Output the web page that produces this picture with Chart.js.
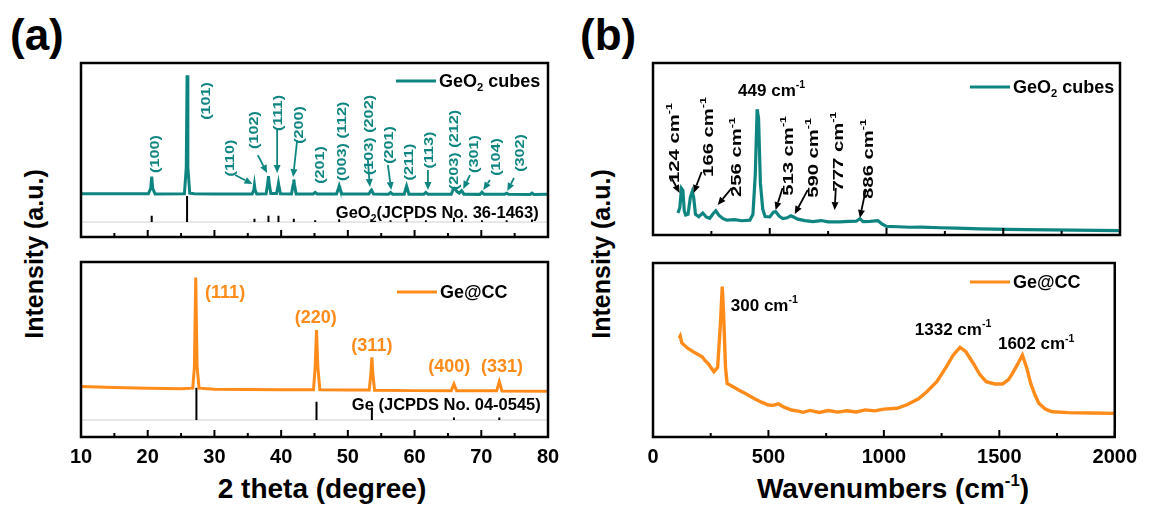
<!DOCTYPE html>
<html>
<head>
<meta charset="utf-8">
<script src="https://cdn.jsdelivr.net/npm/chart.js@4.4.0/dist/chart.umd.min.js"></script>
<style>
  body { margin: 0; background: #fff; }
  #page { position: relative; width: 1150px; height: 510px; overflow: hidden; background: #fff;
          font-family: "Liberation Sans", Arial, sans-serif; }
  canvas { position: absolute; }
  .txt { position: absolute; font-weight: bold; color: #000; white-space: nowrap; line-height: 1; }
  .mid { transform: translate(-50%, -50%); }
  .rot { transform: translate(-50%, -50%) rotate(-90deg); }
  sup { font-size: 60%; vertical-align: 0.7em; line-height: 0; }
</style>
</head>
<body>
<div id="page">
  <div class="txt" style="left:10px; top:13px; font-size:44px;">(a)</div>
  <div class="txt" style="left:580px; top:13px; font-size:44px;">(b)</div>
  <div class="txt rot" style="left:34px; top:254px; font-size:25px;">Intensity (a.u.)</div>
  <div class="txt rot" style="left:601px; top:254px; font-size:25px;">Intensity (a.u.)</div>
  <div class="txt mid" style="left:322px; top:489px; font-size:28px;">2 theta (degree)</div>
  <div class="txt mid" style="left:893px; top:489px; font-size:28px;">Wavenumbers (cm<sup>-1</sup>)</div>
  <canvas id="xrdTop"></canvas>
  <canvas id="xrdBottom"></canvas>
  <canvas id="ramanTop"></canvas>
  <canvas id="ramanBottom"></canvas>
</div>
<script>
// ---- dados ----
// XRD, GeO2 cubes: [2 theta, intensidade]
const geo2Pattern = [
  [10, 24.9], [15, 24.8], [20.1, 24.8], [20.45, 28], [20.6, 34.7], [20.75, 28], [21.1, 24.7],
  [25.5, 24.8], [25.78, 40], [25.9, 93], [26.02, 40], [26.3, 25.2], [27, 24.8], [30, 24.7],
  [35.65, 24.7], [35.9, 27], [36.0, 29.9], [36.1, 27], [36.35, 24.7],
  [37.75, 24.8], [38.0, 31], [38.1, 35], [38.2, 31], [38.45, 25],
  [39.3, 25], [39.5, 28.5], [39.6, 30.8], [39.7, 28.5], [39.9, 24.8],
  [41.55, 24.7], [41.8, 30], [41.9, 33.1], [42.0, 30], [42.25, 24.7],
  [44.8, 24.7], [45.1, 25.6], [45.4, 24.7],
  [48.3, 24.7], [48.6, 28], [48.7, 29.3], [48.8, 28], [49.1, 24.7],
  [53.15, 24.7], [53.45, 26.6], [53.55, 27], [53.85, 24.7],
  [56.1, 24.6], [56.4, 25.6], [56.7, 24.6],
  [58.45, 24.6], [58.7, 28], [58.8, 29.3], [58.9, 28], [59.15, 24.6],
  [61.4, 24.6], [61.7, 25.6], [62.0, 24.6],
  [65.5, 24.6], [65.8, 27.5], [65.95, 28], [66.4, 26], [66.7, 25.2], [67.05, 26.6], [67.4, 24.6],
  [69.8, 24.5], [70.1, 25.7], [70.4, 24.5],
  [73.5, 24.5], [73.8, 25.2], [74.1, 24.5],
  [77.3, 24.4], [77.6, 25.2], [77.9, 24.4], [80, 24.5]
];
// padrão JCPDS 36-1463
const geo2StickPos = [20.6, 25.9, 36.0, 38.1, 39.6, 41.9, 45.1, 48.7, 53.5, 56.4, 58.8, 61.7, 65.9, 67.1, 70.1, 73.8, 77.6];
const geo2StickTop = [12.2, 23.5, 10.5, 12.2, 12.2, 10.5, 9.6, 10.2, 10.2, 9.6, 10.5, 9.6, 11, 10, 9.6, 9.6, 10];
const geo2StickBase = 8.6;
const geo2Hkl = ['(100)', '(101)', '(110)', '(102)', '(111)', '(200)', '(201)', '(003) (112)', '(103) (202)',
  '(201)', '(211)', '(113)', '(203) (212)', '(301)', '(104)', '(302)'];
const geo2HklX = [20.9, 28.6, 32.2, 35.8, 39.4, 42.5, 45.7, 49.0, 53.0, 56.0, 59.0, 62.0, 65.8, 68.8, 72.1, 75.7];
const geo2HklY = [47.7, 78.2, 45.4, 61.5, 71.3, 64.4, 41.4, 55, 58.6, 52.9, 43.1, 50, 50, 47.7, 46, 48.3];
const geo2HklArrows = [
  [33.1, 35.6, 35.7, 30.5], [36.5, 47.1, 37.9, 36.8], [39.4, 62.6, 39.4, 36.8], [42.4, 55.7, 41.8, 34.5],
  [53.0, 44.3, 53.3, 28.7], [56.0, 41.4, 56.5, 27], [62.0, 38.5, 62.0, 27], [68.3, 35.6, 67.3, 27.6],
  [71.3, 32.8, 70.3, 27], [74.9, 33.9, 73.9, 26.4]
];

// XRD, Ge@CC
const gePattern = [
  [10, 28.8], [15, 28.3], [20, 27.8], [25, 27.6], [26.75, 27.9], [27.0, 40], [27.2, 91.2], [27.4, 40], [27.7, 27.9],
  [30, 27.3], [35, 27.1], [40, 27], [44.85, 27], [45.1, 40], [45.3, 61.1], [45.5, 40], [45.8, 27],
  [50, 26.8], [53.2, 26.8], [53.45, 36], [53.6, 45.5], [53.75, 36], [54.0, 26.7],
  [60, 26.5], [65.5, 26.5], [65.9, 30.3], [66.3, 26.4], [72.3, 26.4], [72.7, 31.6], [73.1, 26.3], [80, 26.2]
];
const geStickPos = [27.3, 45.3, 53.6, 65.9, 72.7];
const geStickTop = [28.2, 20.2, 16.6, 11.2, 11.2];
const geStickBase = 9.7;
const geHkl = ['(111)', '(220)', '(311)', '(400)', '(331)'];
const geHklX = [31.6, 45.2, 53.6, 65.2, 73.1];
const geHklY = [82.9, 69.1, 52.6, 41.1, 41.1];

// Raman, GeO2 cubes: [número de onda, intensidade]
const ramanGeo2 = [
  [107, 12.8], [115, 16], [122, 27.1], [128, 26], [134, 14], [140, 11.6], [150, 12], [160, 22], [168, 25.2],
  [174, 22], [182, 12], [196, 10.7], [213, 12.8], [228, 10.5], [243, 9.7], [258, 12.5], [269, 14.1], [282, 11.5],
  [300, 9.5], [316, 8.7], [350, 8.9], [380, 8.3], [415, 8.6], [428, 12], [438, 35], [446, 73.1], [452, 68],
  [460, 30], [470, 15], [480, 10.7], [500, 10.5], [515, 13.2], [525, 13.6], [540, 11], [556, 9.6], [575, 10],
  [590, 11.2], [600, 10.6], [620, 9.2], [650, 8.4], [685, 7.8], [720, 8.4], [750, 7.6], [800, 7.6], [840, 7.9],
  [870, 8], [886, 9.5], [900, 7.8], [930, 7.9], [963, 8.4], [980, 6.5], [1000, 5], [1050, 4.8], [1100, 4.5],
  [1150, 4.6], [1229, 4.2], [1300, 4], [1400, 3.6], [1517, 3.3], [1600, 3.1], [1700, 3], [1800, 2.8],
  [1900, 2.7], [2000, 2.6]
];
const ramanGeo2Marks = ['124', '166', '256', '513', '590', '777', '886'];
const ramanGeo2MarkX = [88, 232, 355, 575, 684, 791, 920];
const ramanGeo2MarkY = [53.5, 57, 45.3, 46, 44.8, 48.5, 44.2];
const ramanGeo2Arrows = [
  [80, 33.1, 114, 24.4], [208, 36.6, 174, 24.4], [337, 27.3, 277, 17.4], [555, 27.3, 525, 14.5],
  [663, 26.2, 607, 12.2], [783, 27.3, 778, 14.5], [911, 26.2, 886, 9.9]
];

// Raman, Ge@CC
const ramanGe = [
  [113, 56.7], [118, 58], [125, 54], [150, 51], [180, 48.5], [213, 46.1], [225, 44], [240, 42], [264, 37.5],
  [280, 40], [292, 65], [300, 86.4], [306, 70], [314, 40], [321, 30.8], [345, 29], [371, 27], [400, 25],
  [440, 22], [470, 20], [500, 18.4], [520, 18.2], [543, 19], [570, 17], [600, 15.5], [629, 14.9], [650, 14.2],
  [680, 15.3], [720, 14.1], [760, 15.2], [800, 14.3], [840, 15.1], [880, 14.4], [920, 15.6], [960, 15],
  [1000, 16], [1057, 16.5], [1100, 18.5], [1150, 22], [1186, 26], [1230, 32], [1271, 40.4], [1300, 47],
  [1330, 51.5], [1355, 49], [1387, 42.4], [1415, 36], [1443, 31.8], [1480, 30.5], [1514, 30.5], [1540, 33],
  [1557, 36.6], [1580, 42], [1600, 47.1], [1618, 40], [1636, 30.8], [1655, 24], [1671, 19.4], [1700, 16],
  [1729, 14.5], [1800, 14], [1900, 13.8], [2000, 13.6]
];
const ramanGeMarks = ['300', '1332', '1602'];
const ramanGeMarkX = [337, 1134, 1494];
const ramanGeMarkY = [75.9, 62.1, 54];

const TEAL = '#0f8581';
const ORANGE = '#ff8b1a';
const FONT = '"Liberation Sans", Arial, sans-serif';

// Função para converter pares em pontos
function toPoints(pairs) {
  return pairs.map(p => ({ x: p[0], y: p[1] }));
}

// Linhas verticais do padrão de referência (separadas por null)
function stickPoints(pos, top, base) {
  const pts = [];
  pos.forEach((p, i) => {
    pts.push({ x: p, y: base }, { x: p, y: top[i] }, { x: p, y: null });
  });
  return pts;
}

// Texto com sub/sobrescrito
function drawRich(ctx, parts, x, y, size, align) {
  const widths = parts.map(p => {
    ctx.font = 'bold ' + (p[1] ? size * 0.62 : size) + 'px ' + FONT;
    return ctx.measureText(p[0]).width;
  });
  const total = widths.reduce((a, b) => a + b, 0);
  let cx = align === 'left' ? x : x - total / 2;
  ctx.textAlign = 'left';
  ctx.textBaseline = 'alphabetic';
  parts.forEach((p, i) => {
    ctx.font = 'bold ' + (p[1] ? size * 0.62 : size) + 'px ' + FONT;
    let dy = 0;
    if (p[1] === 'sub') dy = size * 0.22;
    if (p[1] === 'sup') dy = -size * 0.45;
    ctx.fillText(p[0], cx, y + size * 0.36 + dy);
    cx += widths[i];
  });
}

function drawArrow(ctx, x1, y1, x2, y2, color) {
  const ang = Math.atan2(y2 - y1, x2 - x1);
  const hl = 8, hw = 3.5;
  const c = Math.cos(ang), s = Math.sin(ang);
  ctx.strokeStyle = color;
  ctx.fillStyle = color;
  ctx.lineWidth = 1.8;
  ctx.beginPath();
  ctx.moveTo(x1, y1);
  ctx.lineTo(x2 - hl * c, y2 - hl * s);
  ctx.stroke();
  ctx.beginPath();
  ctx.moveTo(x2, y2);
  ctx.lineTo(x2 - hl * c + hw * s, y2 - hl * s - hw * c);
  ctx.lineTo(x2 - hl * c - hw * s, y2 - hl * s + hw * c);
  ctx.closePath();
  ctx.fill();
}

// Moldura, ticks internos, rótulos, setas e legenda
function decorPlugin(deco, major) {
  return {
    id: 'decor',
    afterDraw(chart) {
      const ctx = chart.ctx, ca = chart.chartArea;
      const xs = chart.scales.x, ys = chart.scales.y;
      ctx.save();
      ctx.strokeStyle = '#000';
      ctx.lineWidth = 2;
      xs.ticks.forEach(t => {
        const px = xs.getPixelForValue(t.value);
        const len = t.value % major === 0 ? 7 : 4;
        ctx.beginPath();
        ctx.moveTo(px, ca.bottom);
        ctx.lineTo(px, ca.bottom - len);
        ctx.stroke();
      });
      ctx.lineWidth = 2.5;
      ctx.strokeRect(ca.left, ca.top, ca.width, ca.height);

      (deco.arrows || []).forEach(a => {
        drawArrow(ctx, xs.getPixelForValue(a[0]), ys.getPixelForValue(a[1]),
          xs.getPixelForValue(a[2]), ys.getPixelForValue(a[3]), deco.arrowColor);
      });

      (deco.labels || []).forEach(l => {
        ctx.save();
        ctx.translate(xs.getPixelForValue(l.x), ys.getPixelForValue(l.y));
        if (l.rot) ctx.rotate(-Math.PI / 2);
        ctx.scale(l.stretch || 1, 1);
        ctx.fillStyle = l.color;
        drawRich(ctx, l.parts, 0, 0, l.size, l.align);
        ctx.restore();
      });

      const lg = deco.legend;
      if (lg) {
        const lx = ca.left + lg.dx, ly = ca.top + lg.dy;
        ctx.strokeStyle = lg.color;
        ctx.lineWidth = 3.2;
        ctx.beginPath();
        ctx.moveTo(lx, ly);
        ctx.lineTo(lx + 40, ly);
        ctx.stroke();
        ctx.fillStyle = '#000';
        drawRich(ctx, lg.parts, lx + 43, ly, 18, 'left');
      }
      ctx.restore();
    }
  };
}

function makeChart(id, box, showAxis, xr, datasets, deco) {
  const cv = document.getElementById(id);
  const padX = 25, padT = 10, axisH = showAxis ? 45 : 10;
  cv.width = box[2] - box[0] + padX * 2;
  cv.height = box[3] - box[1] + padT + axisH;
  cv.style.left = (box[0] - padX) + 'px';
  cv.style.top = (box[1] - padT) + 'px';
  return new Chart(cv, {
    type: 'line',
    data: { datasets: datasets },
    options: {
      responsive: false,
      animation: false,
      layout: { padding: { left: padX, right: padX, top: padT, bottom: showAxis ? 0 : 10 } },
      plugins: { legend: { display: false }, tooltip: { enabled: false } },
      elements: { point: { radius: 0 }, line: { tension: 0 } },
      scales: {
        x: {
          type: 'linear', min: xr.min, max: xr.max,
          grid: { display: false, drawTicks: false },
          border: { display: false },
          ticks: {
            display: showAxis, stepSize: xr.step, autoSkip: false, maxRotation: 0, padding: 8, color: '#000',
            font: { family: FONT, size: 20, weight: 'bold' },
            callback: v => (v % xr.major === 0 ? v : '')
          },
          afterFit: s => { s.height = showAxis ? 45 : 0; }
        },
        y: { display: false, min: 0, max: 100 }
      }
    },
    plugins: [decorPlugin(deco, xr.major)]
  });
}

const xrdRange = { min: 10, max: 80, step: 5, major: 10 };
const ramanRange = { min: 0, max: 2000, step: 250, major: 500 };

function cm(num) {
  return [[num + ' cm', ''], ['-1', 'sup']];
}

// (a) topo
makeChart('xrdTop', [81, 63, 548, 237], false, xrdRange, [
  { data: toPoints(geo2Pattern), borderColor: TEAL, borderWidth: 3 },
  { data: stickPoints(geo2StickPos, geo2StickTop, geo2StickBase), borderColor: '#000', borderWidth: 2 },
  { data: [{ x: 10, y: geo2StickBase }, { x: 80, y: geo2StickBase }], borderColor: '#cfcfcf', borderWidth: 1 }
], {
  arrowColor: TEAL,
  arrows: geo2HklArrows,
  labels: geo2Hkl.map((t, i) => ({ parts: [[t, '']], x: geo2HklX[i], y: geo2HklY[i], rot: true, size: 13.5, stretch: 1.2, color: TEAL }))
    .concat([{ parts: [['GeO', ''], ['2', 'sub'], ['(JCPDS No. 36-1463)', '']], x: 48.2, y: 14.4, size: 16.5, color: '#000', align: 'left' }]),
  legend: { dx: 315, dy: 18, color: TEAL, parts: [['GeO', ''], ['2', 'sub'], [' cubes', '']] }
});

// (a) baixo
makeChart('xrdBottom', [81, 262, 548, 437], true, xrdRange, [
  { data: toPoints(gePattern), borderColor: ORANGE, borderWidth: 3 },
  { data: stickPoints(geStickPos, geStickTop, geStickBase), borderColor: '#000', borderWidth: 2 },
  { data: [{ x: 10, y: geStickBase }, { x: 80, y: geStickBase }], borderColor: '#cfcfcf', borderWidth: 1 }
], {
  labels: geHkl.map((t, i) => ({ parts: [[t, '']], x: geHklX[i], y: geHklY[i], size: 18, color: ORANGE }))
    .concat([{ parts: [['Ge (JCPDS No. 04-0545)', '']], x: 50.6, y: 18.9, size: 16.5, color: '#000', align: 'left' }]),
  legend: { dx: 316, dy: 30, color: ORANGE, parts: [['Ge@CC', '']] }
});

// (b) topo
makeChart('ramanTop', [653, 63, 1120, 235], false, ramanRange, [
  { data: toPoints(ramanGeo2), borderColor: TEAL, borderWidth: 3.2 }
], {
  arrowColor: '#000',
  arrows: ramanGeo2Arrows,
  labels: ramanGeo2Marks.map((t, i) => ({ parts: cm(t), x: ramanGeo2MarkX[i], y: ramanGeo2MarkY[i], rot: true, size: 15, stretch: 1.35, color: '#000' }))
    .concat([{ parts: cm('449'), x: 508, y: 84.3, size: 17, color: '#000' }]),
  legend: { dx: 317, dy: 24, color: TEAL, parts: [['GeO', ''], ['2', 'sub'], [' cubes', '']] }
});

// (b) baixo
makeChart('ramanBottom', [653, 263, 1120, 437], true, ramanRange, [
  { data: toPoints(ramanGe), borderColor: ORANGE, borderWidth: 3.4 }
], {
  labels: ramanGeMarks.map((t, i) => ({ parts: cm(t), x: ramanGeMarkX[i], y: ramanGeMarkY[i], size: 17, color: '#000', align: 'left' })),
  legend: { dx: 317, dy: 19, color: ORANGE, parts: [['Ge@CC', '']] }
});
</script>
</body>
</html>
